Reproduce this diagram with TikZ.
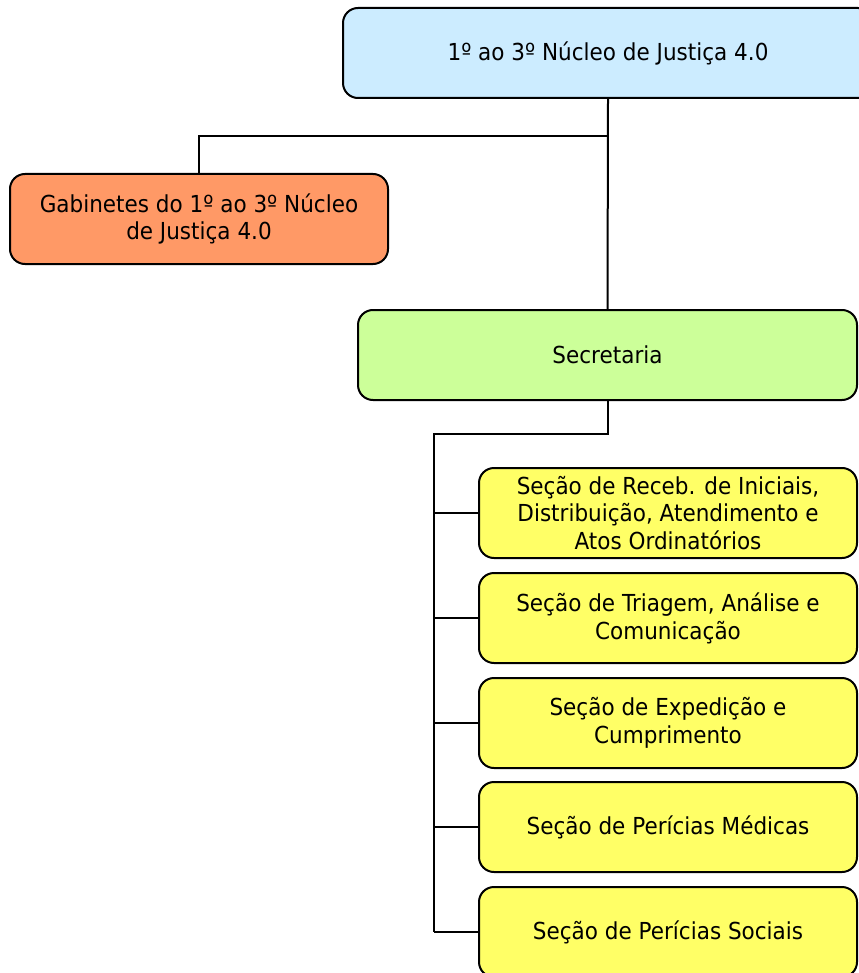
\documentclass[tikz,border=0pt]{standalone}
\usepackage{fontspec}
\setmainfont{DejaVu Sans}[FakeStretch=0.92]
\usepackage{tikz}

\definecolor{nucleoblue}{HTML}{CCECFF}
\definecolor{gabinetesorange}{HTML}{FF9966}
\definecolor{secretariagreen}{HTML}{CCFF99}
\definecolor{secaoyellow}{HTML}{FFFF66}

\tikzset{
	orgbox/.style={draw=black, line width=1pt, rounded corners=7.5pt, align=center,
		minimum height=45pt, inner sep=0pt, font=\fontsize{11.7}{13.9}\selectfont},
	orgline/.style={draw=black, line width=1pt}
}

\begin{document}
\begin{tikzpicture}[x=0.5pt, y=-0.5pt]
	\useasboundingbox (0,0) rectangle (858,973);
	% top
	\node[orgbox, fill=nucleoblue, minimum width=265pt] (nucleo) at (608,53) {1º ao 3º Núcleo de Justiça 4.0};
	\node[orgbox, fill=gabinetesorange, minimum width=189pt] (gabinetes) at (199,219) {Gabinetes do 1º ao 3º Núcleo\\de Justiça 4.0};
	\node[orgbox, fill=secretariagreen, minimum width=249.5pt] (secretaria) at (607.5,355) {Secretaria};
	% secoes
	\foreach \n/\y/\txt in {1/513/{Seção de Receb. de Iniciais,\\Distribuição, Atendimento e\\Atos Ordinatórios},
		2/618/{Seção de Triagem, Análise e\\Comunicação},
		3/723/{Seção de Expedição e\\Cumprimento},
		4/827/{Seção de Perícias Médicas},
		5/932/{Seção de Perícias Sociais}}
		\node[orgbox, fill=secaoyellow, minimum width=189pt] (secao\n) at (668,\y) {\txt};
	% lines
	\draw[orgline] (nucleo.south) -- (secretaria.north);
	\draw[orgline] (nucleo.south) -- ++(0,37) -| (gabinetes.north);
	\coordinate (bus) at (434,434);
	\draw[orgline] (secretaria.south) |- (bus) -- (bus |- secao5.west);
	\foreach \n in {1,...,5}
		\draw[orgline] (bus |- secao\n.west) -- (secao\n.west);
\end{tikzpicture}
\end{document}
